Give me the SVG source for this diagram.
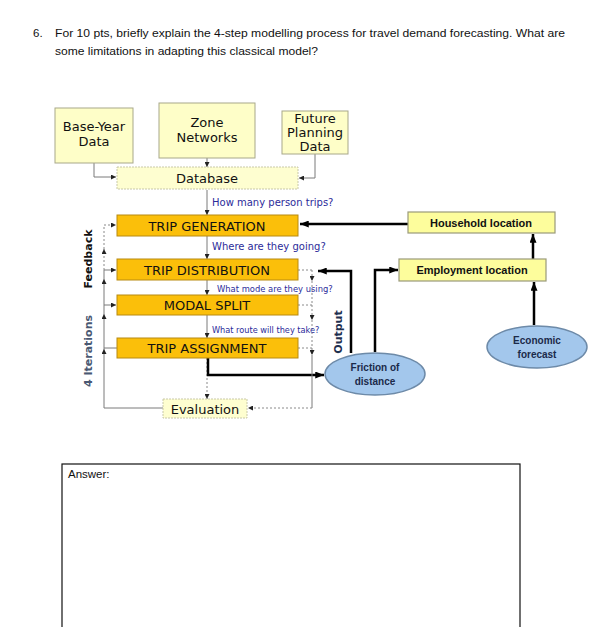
<svg xmlns="http://www.w3.org/2000/svg" width="590" height="627" viewBox="0 0 590 627">
<defs>
<style>
.q{font-family:"Liberation Sans",Arial,sans-serif;font-size:11.5px;fill:#111}
.v{font-family:"DejaVu Sans",Verdana,sans-serif;font-size:13px;fill:#111;text-anchor:middle}
.lbl{font-family:"DejaVu Sans",Verdana,sans-serif;fill:#2b2b9a}
.b{font-family:"Liberation Sans",Arial,sans-serif;font-weight:bold;font-size:11px;fill:#111;text-anchor:middle}
.e{font-family:"Liberation Sans",Arial,sans-serif;font-weight:bold;font-size:10px;fill:#1b2a4a;text-anchor:middle}
.ly{fill:#fefec8;stroke:#a8a88a;stroke-width:1}
.ldb{fill:#fefed0;stroke:#c8c8a8;stroke-width:1;stroke-dasharray:2 1}
.or{fill:#fbbf0a;stroke:#b88a10;stroke-width:1}
.yl{fill:#fdfd9c;stroke:#9a9a7a;stroke-width:1.2}
.el{fill:#a3c7ec;stroke:#6d8aa8;stroke-width:1.5}
.g{fill:none;stroke:#7a7a7a;stroke-width:1}
.gd{fill:none;stroke:#8a8a8a;stroke-width:1;stroke-dasharray:2 2}
.k{fill:none;stroke:#000;stroke-width:2.5}
</style>
<marker id="ga" viewBox="0 0 6 6" refX="6" refY="3" markerWidth="5" markerHeight="5" markerUnits="userSpaceOnUse" orient="auto"><path d="M0,0L6,3L0,6z" fill="#222"/></marker>
<marker id="ka" viewBox="0 0 10 8" refX="10" refY="4" markerWidth="9" markerHeight="7" markerUnits="userSpaceOnUse" orient="auto"><path d="M0,0L10,4L0,8z" fill="#000"/></marker>
</defs>
<rect width="590" height="627" fill="#fff"/>
<text class="q" x="33" y="37">6.</text>
<text class="q" x="55" y="37" textLength="510" lengthAdjust="spacingAndGlyphs">For 10 pts, briefly explain the 4-step modelling process for travel demand forecasting. What are</text>
<text class="q" x="55" y="55" textLength="263" lengthAdjust="spacingAndGlyphs">some limitations in adapting this classical model?</text>

<g id="connectors">
<path class="g" d="M94,163V177H116" marker-end="url(#ga)"/>
<path class="g" d="M207,158V167" marker-end="url(#ga)"/>
<path class="g" d="M315,154V178H299" marker-end="url(#ga)"/>
<path class="g" d="M207,190V215" marker-end="url(#ga)"/>
<path class="g" d="M207,236V259" marker-end="url(#ga)"/>
<path class="g" d="M207,280V295" marker-end="url(#ga)"/>
<path class="g" d="M207,315V338" marker-end="url(#ga)"/>
<path class="gd" d="M207,358V399" marker-end="url(#ga)"/>
<path class="k" d="M208,358V375H324" marker-end="url(#ka)"/>
<path class="k" d="M408,224H300" marker-end="url(#ka)"/>
<path class="k" d="M533,259V234" marker-end="url(#ka)"/>
<path class="k" d="M534,325V282" marker-end="url(#ka)"/>
<path class="k" d="M351,353V271H318" marker-end="url(#ka)"/>
<path class="k" d="M375,352V270H398" marker-end="url(#ka)"/>
<path class="gd" d="M298,270H312"/>
<path class="gd" d="M298,305H312"/>
<path class="gd" d="M298,348H312"/>
<path class="gd" d="M312,270V281" marker-end="url(#ga)"/>
<path class="gd" d="M312,281V320" marker-end="url(#ga)"/>
<path class="gd" d="M312,320V355" marker-end="url(#ga)"/>
<path class="g" d="M312,355V408"/>
<path class="gd" d="M312,408H248" marker-end="url(#ga)"/>
<path class="g" d="M163,408H104V349" marker-end="url(#ga)"/>
<path class="g" d="M104,349V314" marker-end="url(#ga)"/>
<path class="g" d="M104,314V279" marker-end="url(#ga)"/>
<path class="g" d="M104,279V270"/>
<path class="gd" d="M104,270V249" marker-end="url(#ga)"/>
<path class="gd" d="M104,249V225H116" marker-end="url(#ga)"/>
<path class="g" d="M104,270H116" marker-end="url(#ga)"/>
<path class="g" d="M104,305H116" marker-end="url(#ga)"/>
<path class="g" d="M104,348H117"/>
</g>

<g id="base-year"><rect class="ly" x="55" y="108" width="78" height="55"/><text class="v" x="94" y="131" font-size="12.5">Base-Year</text><text class="v" x="94" y="146" font-size="12.5">Data</text></g>
<g id="zone"><rect class="ly" x="159" y="103" width="96" height="55"/><text class="v" x="207" y="127" font-size="12.5">Zone</text><text class="v" x="207" y="142" font-size="12.5">Networks</text></g>
<g id="future"><rect class="ly" x="282" y="111" width="66" height="43"/><text class="v" x="315" y="122.5" font-size="10.5">Future</text><text class="v" x="315" y="136.5" font-size="10.5">Planning</text><text class="v" x="315" y="150.5" font-size="10.5">Data</text></g>
<g id="database"><rect class="ldb" x="117" y="167" width="181" height="22"/><text class="v" x="207" y="183">Database</text></g>
<text class="lbl" x="212" y="206" font-size="10">How many person trips?</text>
<g id="trip-gen"><rect class="or" x="117" y="215" width="181" height="21"/><text class="v" x="207" y="230.5">TRIP GENERATION</text></g>
<text class="lbl" x="212" y="250" font-size="10">Where are they going?</text>
<g id="trip-dist"><rect class="or" x="117" y="259" width="181" height="21"/><text class="v" x="207" y="274.5">TRIP DISTRIBUTION</text></g>
<text class="lbl" x="217" y="292" font-size="8.4">What mode are they using?</text>
<g id="modal"><rect class="or" x="117" y="295" width="181" height="20"/><text class="v" x="207" y="310">MODAL SPLIT</text></g>
<text class="lbl" x="212" y="333" font-size="8.2">What route will they take?</text>
<g id="trip-assign"><rect class="or" x="117" y="338" width="181" height="20"/><text class="v" x="207" y="353">TRIP ASSIGNMENT</text></g>
<g id="evaluation"><rect class="ldb" x="163" y="399" width="84" height="19"/><text class="v" x="205" y="414">Evaluation</text></g>
<g id="household"><rect class="yl" x="408" y="212" width="147" height="21"/><text class="b" x="481" y="226.5">Household location</text></g>
<g id="employment"><rect class="yl" x="399" y="259" width="147" height="22"/><text class="b" x="472" y="274">Employment location</text></g>
<g id="friction"><ellipse class="el" cx="375" cy="374" rx="50" ry="21"/><text class="e" x="375" y="371">Friction of</text><text class="e" x="375" y="385">distance</text></g>
<g id="economic"><ellipse class="el" cx="537" cy="347" rx="50" ry="21"/><text class="e" x="537" y="344">Economic</text><text class="e" x="537" y="358">forecast</text></g>
<text transform="translate(342,332) rotate(-90)" font-family="DejaVu Sans,Verdana,sans-serif" font-weight="bold" font-size="11" fill="#1f3050" text-anchor="middle">Output</text>
<text transform="translate(92,259) rotate(-90)" font-family="DejaVu Sans,Verdana,sans-serif" font-weight="bold" font-size="11" fill="#111" text-anchor="middle">Feedback</text>
<text transform="translate(92,351) rotate(-90)" font-family="DejaVu Sans,Verdana,sans-serif" font-weight="bold" font-size="11" fill="#4a5872" text-anchor="middle">4 Iterations</text>

<g id="answer"><rect x="62" y="464" width="458" height="170" fill="none" stroke="#111" stroke-width="1.2"/><text class="q" x="68" y="478" font-size="11">Answer:</text></g>
</svg>
